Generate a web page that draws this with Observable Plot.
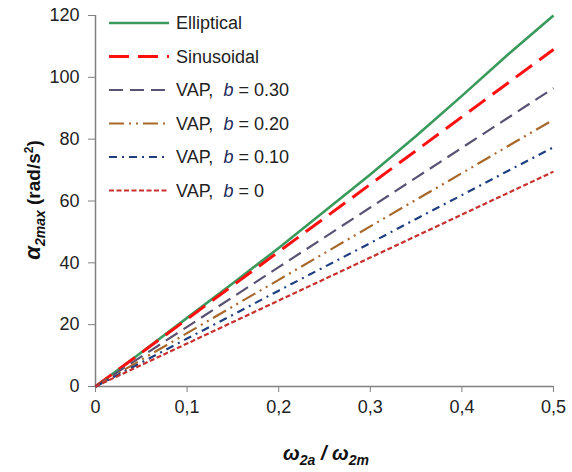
<!DOCTYPE html>
<html>
<head>
<meta charset="utf-8">
<script src="https://cdn.jsdelivr.net/npm/d3@7"></script>
<script src="https://cdn.jsdelivr.net/npm/@observablehq/plot@0.6"></script>
<style>
  html, body { margin: 0; padding: 0; background: #fff; }
  #chart { position: relative; width: 572px; height: 472px; }
</style>
</head>
<body>
<div id="chart"></div>
<script>
// ---- data ----
const ratio = [0, 0.05, 0.1, 0.15, 0.2, 0.25, 0.3, 0.35, 0.4, 0.45, 0.5];
const elliptical = [0, 11, 22.2, 33.4, 44.8, 56.7, 68.6, 81, 94, 107.3, 120];
const sinusoidal = [0, 10.9, 21.8, 32.7, 43.6, 54.5, 65.4, 76.3, 87.2, 98.1, 109];
const vap030 = [0, 9.65, 19.3, 28.95, 38.6, 48.25, 57.9, 67.55, 77.2, 86.85, 96.5];
const vap020 = [0, 8.63, 17.26, 25.9, 34.5, 43.15, 51.8, 60.4, 69, 77.7, 86.3];
const vap010 = [0, 7.74, 15.5, 23.2, 31, 38.7, 46.4, 54.2, 61.9, 69.7, 77.4];
const vap000 = [0, 6.95, 13.9, 20.85, 27.8, 34.75, 41.7, 48.65, 55.6, 62.55, 69.5];
const xTicks = [0, 0.1, 0.2, 0.3, 0.4, 0.5];
const yTicks = [0, 20, 40, 60, 80, 100, 120];

const series = [
  {name: "Elliptical", values: elliptical, color: "#3a9a5c", width: 2.6, dash: null},
  {name: "Sinusoidal", values: sinusoidal, color: "#ff1010", width: 3, dash: "20,9"},
  {name: "VAP, b = 0.30", values: vap030, color: "#5a5272", width: 2.2, dash: "14,7"},
  {name: "VAP, b = 0.20", values: vap020, color: "#a8682a", width: 2.2, dash: "15,5,2,5,2,5"},
  {name: "VAP, b = 0.10", values: vap010, color: "#1f3f80", width: 2.2, dash: "8,5,2,5"},
  {name: "VAP, b = 0", values: vap000, color: "#c8302e", width: 2.2, dash: "5,2.5"}
];

const lineMarks = series.map(s =>
  Plot.line(ratio.map((x, i) => ({x, y: s.values[i]})), {
    x: "x", y: "y",
    stroke: s.color, strokeWidth: s.width,
    strokeDasharray: s.dash || undefined,
    strokeLinecap: "butt"
  })
);

const fmt = d => d === 0 ? "0" : d3.format(".1f")(d).replace(".", ",");

const plot = Plot.plot({
  width: 572,
  height: 472,
  marginLeft: 95,
  marginRight: 19,
  marginTop: 15,
  marginBottom: 86,
  style: {fontFamily: "'Liberation Sans', Arial, sans-serif", background: "#fff"},
  x: {domain: [0, 0.5]},
  y: {domain: [0, 120]},
  marks: [
    Plot.axisX({ticks: xTicks, tickFormat: fmt, tickSize: 6, tickPadding: 8, fontSize: 18, stroke: "#808080", fill: "#222", label: null}),
    Plot.axisY({ticks: yTicks, tickSize: 7, tickPadding: 9, fontSize: 18, stroke: "#808080", fill: "#222", label: null}),
    Plot.ruleY([0], {stroke: "#808080", strokeWidth: 1.5}),
    Plot.ruleX([0], {stroke: "#808080", strokeWidth: 1.5}),
    ...lineMarks
  ]
});

document.getElementById("chart").appendChild(plot);

const svg = d3.select(plot);

// Y axis label
const yl = svg.append("text")
  .attr("transform", "translate(40,200) rotate(-90)")
  .attr("text-anchor", "middle")
  .attr("font-family", "'Liberation Sans', Arial, sans-serif")
  .attr("font-weight", "bold")
  .attr("font-size", 19)
  .attr("fill", "#111");
yl.append("tspan").attr("font-style", "italic").attr("font-size", 22).text("α");
yl.append("tspan").attr("font-style", "italic").attr("font-size", 14).attr("dy", 5).text("2max");
yl.append("tspan").attr("dy", -5).text(" (rad/s");
yl.append("tspan").attr("font-size", 12).attr("dy", -7).text("2");
yl.append("tspan").attr("dy", 7).text(")");

// X axis label
const xl = svg.append("text")
  .attr("x", 326).attr("y", 460)
  .attr("text-anchor", "middle")
  .attr("font-family", "'Liberation Sans', Arial, sans-serif")
  .attr("font-weight", "bold")
  .attr("font-style", "italic")
  .attr("font-size", 20)
  .attr("fill", "#111");
xl.append("tspan").text("ω");
xl.append("tspan").attr("font-size", 14).attr("dy", 5).text("2a");
xl.append("tspan").attr("dy", -5).text(" / ω");
xl.append("tspan").attr("font-size", 14).attr("dy", 5).text("2m");

// Legend
const lg = svg.append("g")
  .attr("font-family", "'Liberation Sans', Arial, sans-serif")
  .attr("font-size", 18)
  .attr("text-anchor", "start")
  .attr("fill", "#222");
series.forEach((s, i) => {
  const y = 23 + i * 33.5;
  lg.append("line").attr("x1", 109).attr("x2", 169).attr("y1", y).attr("y2", y)
    .attr("stroke", s.color).attr("stroke-width", s.width)
    .attr("stroke-dasharray", s.dash);
  const t = lg.append("text").attr("x", 176).attr("y", y + 6).attr("text-anchor", "start");
  if (s.name.startsWith("VAP")) {
    const bval = s.name.split("= ")[1];
    t.append("tspan").text("VAP,  ");
    t.append("tspan").attr("font-style", "italic").attr("fill", "#1a2a5a").text("b");
    t.append("tspan").text(" = " + bval);
  } else {
    t.text(s.name);
  }
});
</script>
</body>
</html>
